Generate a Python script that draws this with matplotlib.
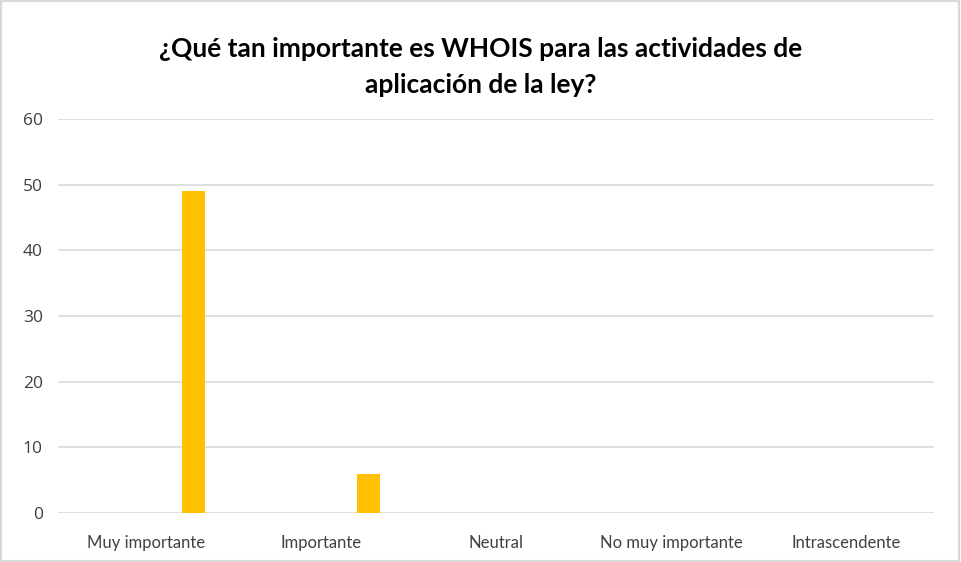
import matplotlib
matplotlib.use("Agg")
import matplotlib.pyplot as plt
import numpy as np
from matplotlib.patches import Rectangle

categories = ["Muy importante", "Importante", "Neutral", "No muy importante", "Intrascendente"]
values = [49, 6, 0, 0, 0]
yticks = [0, 10, 20, 30, 40, 50, 60]
title = "¿Qué tan importante es WHOIS para las actividades de\naplicación de la ley?"

plt.rcParams['font.family'] = ['Lato', 'DejaVu Sans']

fig = plt.figure(figsize=(9.61, 5.62), dpi=100)
ax = fig.add_axes([58/961, 1-513/562, (934-58)/961, (513-119)/562])

x = np.arange(len(categories))
ax.bar(x + 0.274, values, width=0.131, color="#FFC000", zorder=3)

ax.set_xlim(-0.5, len(categories) - 0.5)
ax.set_ylim(0, 60)
ax.set_yticks(yticks)
ax.set_yticklabels([str(t) for t in yticks], fontsize=12.5, color="#404040",
                   family=['Open Sans', 'DejaVu Sans'])
ax.set_xticks(x)
ax.set_xticklabels(categories, fontsize=12, color="#404040")
ax.tick_params(axis='both', length=0)
ax.tick_params(axis='y', pad=11)
ax.tick_params(axis='x', pad=16)
ax.grid(axis='y', color="#d9d9d9", linewidth=1.2, zorder=0)
for s in ax.spines.values():
    s.set_visible(False)

fig.text(0.5, 1-67/562, title, ha='center', va='center', fontsize=19, fontweight='bold',
         color="#000000", linespacing=1.6)

fig.patches.append(Rectangle((0.001, 0.001), 0.997, 0.997, transform=fig.transFigure,
                             fill=False, edgecolor="#d9d9d9", linewidth=1.5))

fig.savefig("out.png", dpi=100)
